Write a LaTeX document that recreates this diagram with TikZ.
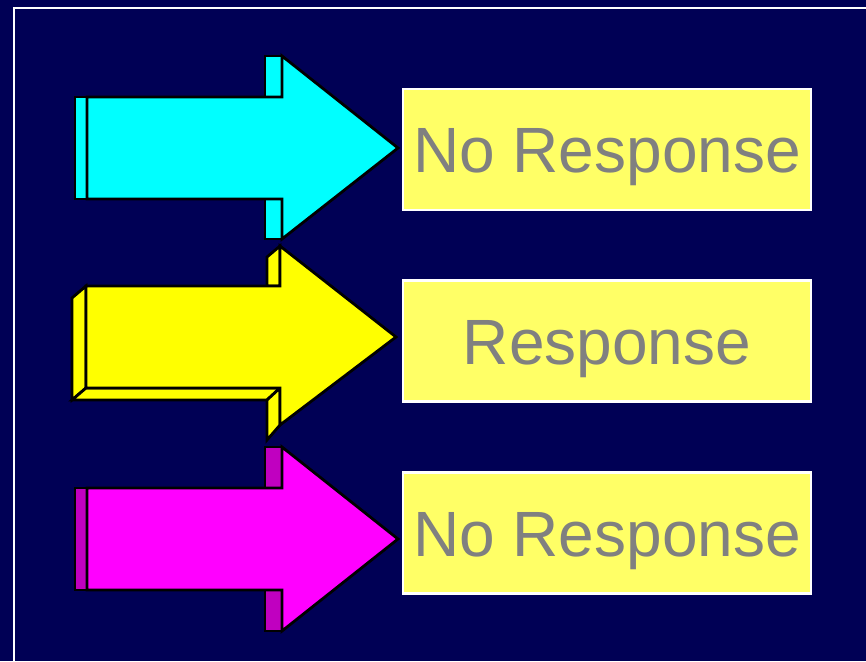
\documentclass[tikz,border=0pt]{standalone}
\usepackage{fontspec}
\setmainfont{Liberation Sans}
\definecolor{bgnavy}{RGB}{0,0,85}
\definecolor{cyanA}{RGB}{0,255,255}
\definecolor{yellowA}{RGB}{255,255,0}
\definecolor{magA}{RGB}{255,0,255}
\definecolor{magSide}{RGB}{192,0,192}
\definecolor{boxfill}{RGB}{255,255,102}
\definecolor{txtgray}{RGB}{128,128,128}
\tikzset{
  arrowface/.style={draw=black, line width=2.8pt, line join=miter},
  labelbox/.style={draw=white, line width=2.2pt, fill=boxfill, text=txtgray,
    minimum width=408pt, minimum height=121pt, inner sep=0pt,
    text height=46pt, text depth=0pt,
    font=\fontsize{64}{70}\selectfont},
}
\begin{document}
\begin{tikzpicture}[x=1pt,y=-1pt]
\useasboundingbox (0,0) rectangle (866,661);
\clip (0,0) rectangle (866,661);
\fill[bgnavy] (0,0) rectangle (866,661);
\draw[white, line width=2.8pt] (14,8) rectangle (900,700);

% cyan arrow
\filldraw[arrowface, fill=cyanA] (75,97) rectangle (87,199);
\filldraw[arrowface, fill=cyanA] (265,56) rectangle (282,97);
\filldraw[arrowface, fill=cyanA] (265,199) rectangle (282,239);
\filldraw[arrowface, fill=cyanA] (87,97) -- (282,97) -- (282,56) -- (398,148) -- (282,239) -- (282,199) -- (87,199) -- cycle;

% yellow arrow (3D)
\filldraw[arrowface, fill=yellowA] (72,298) -- (86,286) -- (86,388) -- (72,400) -- cycle;
\filldraw[arrowface, fill=yellowA] (86,388) -- (280,388) -- (267,400) -- (72,400) -- cycle;
\filldraw[arrowface, fill=yellowA] (267,257) -- (280,246) -- (280,286) -- (267,286) -- cycle;
\filldraw[arrowface, fill=yellowA] (267,400) -- (280,388) -- (280,425) -- (267,440) -- cycle;
\filldraw[arrowface, fill=yellowA] (86,286) -- (280,286) -- (280,246) -- (396,337) -- (280,425) -- (280,388) -- (86,388) -- cycle;

% magenta arrow
\filldraw[arrowface, fill=magSide] (75,488) rectangle (87,590);
\filldraw[arrowface, fill=magSide] (265,447) rectangle (282,488);
\filldraw[arrowface, fill=magSide] (265,590) rectangle (282,631);
\filldraw[arrowface, fill=magA] (87,488) -- (282,488) -- (282,447) -- (398,539) -- (282,631) -- (282,590) -- (87,590) -- cycle;

% label boxes
\node[labelbox] (b1) at (607,149.5) {No Response};
\node[labelbox] (b2) at (607,341) {Response};
\node[labelbox] (b3) at (607,533) {No Response};
\end{tikzpicture}
\end{document}
